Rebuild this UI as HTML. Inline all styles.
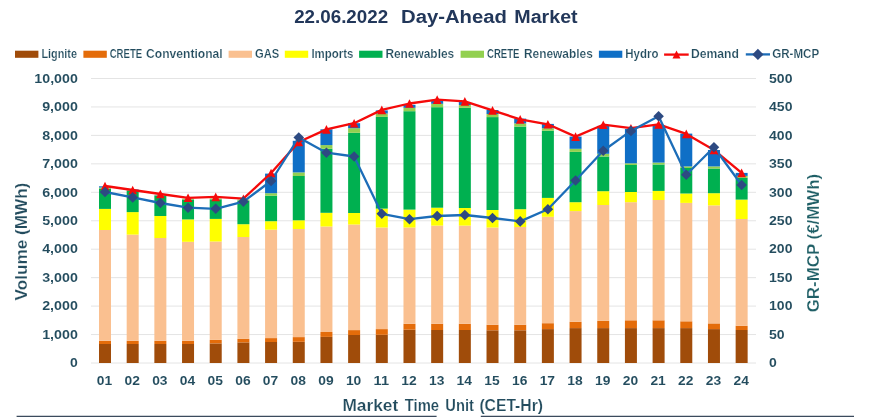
<!DOCTYPE html>
<html><head><meta charset="utf-8"><title>Day-Ahead Market</title>
<style>html,body{margin:0;padding:0;background:#fff}svg{display:block}text{font-family:"Liberation Sans",sans-serif;font-weight:bold}svg{will-change:transform}</style></head><body>
<svg width="869" height="418" viewBox="0 0 869 418">
<rect width="869" height="418" fill="#fff"/>
<line x1="91.0" x2="756.0" y1="78.50" y2="78.50" stroke="#E4E4E4" stroke-width="1"/>
<line x1="91.0" x2="756.0" y1="106.95" y2="106.95" stroke="#E4E4E4" stroke-width="1"/>
<line x1="91.0" x2="756.0" y1="135.40" y2="135.40" stroke="#E4E4E4" stroke-width="1"/>
<line x1="91.0" x2="756.0" y1="163.85" y2="163.85" stroke="#E4E4E4" stroke-width="1"/>
<line x1="91.0" x2="756.0" y1="192.30" y2="192.30" stroke="#E4E4E4" stroke-width="1"/>
<line x1="91.0" x2="756.0" y1="220.75" y2="220.75" stroke="#E4E4E4" stroke-width="1"/>
<line x1="91.0" x2="756.0" y1="249.20" y2="249.20" stroke="#E4E4E4" stroke-width="1"/>
<line x1="91.0" x2="756.0" y1="277.65" y2="277.65" stroke="#E4E4E4" stroke-width="1"/>
<line x1="91.0" x2="756.0" y1="306.10" y2="306.10" stroke="#E4E4E4" stroke-width="1"/>
<line x1="91.0" x2="756.0" y1="334.55" y2="334.55" stroke="#E4E4E4" stroke-width="1"/>
<line x1="91.0" x2="756.0" y1="363.00" y2="363.00" stroke="#E4E4E4" stroke-width="1"/>
<rect x="99.00" y="344.00" width="12.0" height="19.00" fill="#A04C0A"/>
<rect x="99.00" y="340.80" width="12.0" height="3.20" fill="#E46C0A"/>
<rect x="99.00" y="230.00" width="12.0" height="110.80" fill="#FAC090"/>
<rect x="99.00" y="208.90" width="12.0" height="21.10" fill="#FFFF00"/>
<rect x="99.00" y="188.50" width="12.0" height="20.40" fill="#00B050"/>
<rect x="99.00" y="187.50" width="12.0" height="1.00" fill="#92D050"/>
<rect x="99.00" y="186.30" width="12.0" height="1.20" fill="#0F6FC6"/>
<rect x="126.68" y="344.00" width="12.0" height="19.00" fill="#A04C0A"/>
<rect x="126.68" y="340.80" width="12.0" height="3.20" fill="#E46C0A"/>
<rect x="126.68" y="234.60" width="12.0" height="106.20" fill="#FAC090"/>
<rect x="126.68" y="212.10" width="12.0" height="22.50" fill="#FFFF00"/>
<rect x="126.68" y="191.00" width="12.0" height="21.10" fill="#00B050"/>
<rect x="126.68" y="190.20" width="12.0" height="0.80" fill="#92D050"/>
<rect x="126.68" y="189.50" width="12.0" height="0.70" fill="#0F6FC6"/>
<rect x="154.36" y="344.00" width="12.0" height="19.00" fill="#A04C0A"/>
<rect x="154.36" y="340.80" width="12.0" height="3.20" fill="#E46C0A"/>
<rect x="154.36" y="238.00" width="12.0" height="102.80" fill="#FAC090"/>
<rect x="154.36" y="216.00" width="12.0" height="22.00" fill="#FFFF00"/>
<rect x="154.36" y="196.00" width="12.0" height="20.00" fill="#00B050"/>
<rect x="154.36" y="195.30" width="12.0" height="0.70" fill="#92D050"/>
<rect x="154.36" y="194.90" width="12.0" height="0.40" fill="#0F6FC6"/>
<rect x="182.04" y="344.00" width="12.0" height="19.00" fill="#A04C0A"/>
<rect x="182.04" y="340.80" width="12.0" height="3.20" fill="#E46C0A"/>
<rect x="182.04" y="241.80" width="12.0" height="99.00" fill="#FAC090"/>
<rect x="182.04" y="219.40" width="12.0" height="22.40" fill="#FFFF00"/>
<rect x="182.04" y="199.50" width="12.0" height="19.90" fill="#00B050"/>
<rect x="182.04" y="198.70" width="12.0" height="0.80" fill="#92D050"/>
<rect x="209.72" y="343.40" width="12.0" height="19.60" fill="#A04C0A"/>
<rect x="209.72" y="339.90" width="12.0" height="3.50" fill="#E46C0A"/>
<rect x="209.72" y="241.50" width="12.0" height="98.40" fill="#FAC090"/>
<rect x="209.72" y="218.90" width="12.0" height="22.60" fill="#FFFF00"/>
<rect x="209.72" y="199.30" width="12.0" height="19.60" fill="#00B050"/>
<rect x="209.72" y="198.50" width="12.0" height="0.80" fill="#92D050"/>
<rect x="237.40" y="342.40" width="12.0" height="20.60" fill="#A04C0A"/>
<rect x="237.40" y="338.90" width="12.0" height="3.50" fill="#E46C0A"/>
<rect x="237.40" y="237.00" width="12.0" height="101.90" fill="#FAC090"/>
<rect x="237.40" y="224.20" width="12.0" height="12.80" fill="#FFFF00"/>
<rect x="237.40" y="200.50" width="12.0" height="23.70" fill="#00B050"/>
<rect x="237.40" y="199.50" width="12.0" height="1.00" fill="#92D050"/>
<rect x="265.08" y="342.00" width="12.0" height="21.00" fill="#A04C0A"/>
<rect x="265.08" y="338.10" width="12.0" height="3.90" fill="#E46C0A"/>
<rect x="265.08" y="229.70" width="12.0" height="108.40" fill="#FAC090"/>
<rect x="265.08" y="221.20" width="12.0" height="8.50" fill="#FFFF00"/>
<rect x="265.08" y="195.70" width="12.0" height="25.50" fill="#00B050"/>
<rect x="265.08" y="193.20" width="12.0" height="2.50" fill="#92D050"/>
<rect x="265.08" y="173.60" width="12.0" height="19.60" fill="#0F6FC6"/>
<rect x="292.76" y="341.80" width="12.0" height="21.20" fill="#A04C0A"/>
<rect x="292.76" y="337.10" width="12.0" height="4.70" fill="#E46C0A"/>
<rect x="292.76" y="229.00" width="12.0" height="108.10" fill="#FAC090"/>
<rect x="292.76" y="220.30" width="12.0" height="8.70" fill="#FFFF00"/>
<rect x="292.76" y="176.00" width="12.0" height="44.30" fill="#00B050"/>
<rect x="292.76" y="172.40" width="12.0" height="3.60" fill="#92D050"/>
<rect x="292.76" y="140.80" width="12.0" height="31.60" fill="#0F6FC6"/>
<rect x="320.44" y="336.90" width="12.0" height="26.10" fill="#A04C0A"/>
<rect x="320.44" y="332.00" width="12.0" height="4.90" fill="#E46C0A"/>
<rect x="320.44" y="226.50" width="12.0" height="105.50" fill="#FAC090"/>
<rect x="320.44" y="212.80" width="12.0" height="13.70" fill="#FFFF00"/>
<rect x="320.44" y="148.70" width="12.0" height="64.10" fill="#00B050"/>
<rect x="320.44" y="145.10" width="12.0" height="3.60" fill="#92D050"/>
<rect x="320.44" y="129.30" width="12.0" height="15.80" fill="#0F6FC6"/>
<rect x="348.12" y="335.00" width="12.0" height="28.00" fill="#A04C0A"/>
<rect x="348.12" y="330.10" width="12.0" height="4.90" fill="#E46C0A"/>
<rect x="348.12" y="224.50" width="12.0" height="105.60" fill="#FAC090"/>
<rect x="348.12" y="213.00" width="12.0" height="11.50" fill="#FFFF00"/>
<rect x="348.12" y="132.80" width="12.0" height="80.20" fill="#00B050"/>
<rect x="348.12" y="128.20" width="12.0" height="4.60" fill="#92D050"/>
<rect x="348.12" y="123.20" width="12.0" height="5.00" fill="#0F6FC6"/>
<rect x="375.80" y="334.80" width="12.0" height="28.20" fill="#A04C0A"/>
<rect x="375.80" y="329.10" width="12.0" height="5.70" fill="#E46C0A"/>
<rect x="375.80" y="227.50" width="12.0" height="101.60" fill="#FAC090"/>
<rect x="375.80" y="208.60" width="12.0" height="18.90" fill="#FFFF00"/>
<rect x="375.80" y="116.90" width="12.0" height="91.70" fill="#00B050"/>
<rect x="375.80" y="113.50" width="12.0" height="3.40" fill="#92D050"/>
<rect x="375.80" y="110.40" width="12.0" height="3.10" fill="#0F6FC6"/>
<rect x="403.48" y="329.70" width="12.0" height="33.30" fill="#A04C0A"/>
<rect x="403.48" y="323.80" width="12.0" height="5.90" fill="#E46C0A"/>
<rect x="403.48" y="227.50" width="12.0" height="96.30" fill="#FAC090"/>
<rect x="403.48" y="209.60" width="12.0" height="17.90" fill="#FFFF00"/>
<rect x="403.48" y="111.20" width="12.0" height="98.40" fill="#00B050"/>
<rect x="403.48" y="107.80" width="12.0" height="3.40" fill="#92D050"/>
<rect x="403.48" y="104.80" width="12.0" height="3.00" fill="#0F6FC6"/>
<rect x="431.16" y="330.00" width="12.0" height="33.00" fill="#A04C0A"/>
<rect x="431.16" y="323.80" width="12.0" height="6.20" fill="#E46C0A"/>
<rect x="431.16" y="225.60" width="12.0" height="98.20" fill="#FAC090"/>
<rect x="431.16" y="207.70" width="12.0" height="17.90" fill="#FFFF00"/>
<rect x="431.16" y="107.20" width="12.0" height="100.50" fill="#00B050"/>
<rect x="431.16" y="103.80" width="12.0" height="3.40" fill="#92D050"/>
<rect x="431.16" y="100.60" width="12.0" height="3.20" fill="#0F6FC6"/>
<rect x="458.84" y="330.00" width="12.0" height="33.00" fill="#A04C0A"/>
<rect x="458.84" y="323.80" width="12.0" height="6.20" fill="#E46C0A"/>
<rect x="458.84" y="225.60" width="12.0" height="98.20" fill="#FAC090"/>
<rect x="458.84" y="208.00" width="12.0" height="17.60" fill="#FFFF00"/>
<rect x="458.84" y="107.80" width="12.0" height="100.20" fill="#00B050"/>
<rect x="458.84" y="105.00" width="12.0" height="2.80" fill="#92D050"/>
<rect x="458.84" y="102.00" width="12.0" height="3.00" fill="#0F6FC6"/>
<rect x="486.52" y="330.30" width="12.0" height="32.70" fill="#A04C0A"/>
<rect x="486.52" y="324.80" width="12.0" height="5.50" fill="#E46C0A"/>
<rect x="486.52" y="227.50" width="12.0" height="97.30" fill="#FAC090"/>
<rect x="486.52" y="210.00" width="12.0" height="17.50" fill="#FFFF00"/>
<rect x="486.52" y="117.10" width="12.0" height="92.90" fill="#00B050"/>
<rect x="486.52" y="114.00" width="12.0" height="3.10" fill="#92D050"/>
<rect x="486.52" y="110.00" width="12.0" height="4.00" fill="#0F6FC6"/>
<rect x="514.20" y="330.30" width="12.0" height="32.70" fill="#A04C0A"/>
<rect x="514.20" y="324.80" width="12.0" height="5.50" fill="#E46C0A"/>
<rect x="514.20" y="227.00" width="12.0" height="97.80" fill="#FAC090"/>
<rect x="514.20" y="209.20" width="12.0" height="17.80" fill="#FFFF00"/>
<rect x="514.20" y="126.60" width="12.0" height="82.60" fill="#00B050"/>
<rect x="514.20" y="123.40" width="12.0" height="3.20" fill="#92D050"/>
<rect x="514.20" y="118.60" width="12.0" height="4.80" fill="#0F6FC6"/>
<rect x="541.88" y="329.10" width="12.0" height="33.90" fill="#A04C0A"/>
<rect x="541.88" y="323.20" width="12.0" height="5.90" fill="#E46C0A"/>
<rect x="541.88" y="216.80" width="12.0" height="106.40" fill="#FAC090"/>
<rect x="541.88" y="197.90" width="12.0" height="18.90" fill="#FFFF00"/>
<rect x="541.88" y="130.70" width="12.0" height="67.20" fill="#00B050"/>
<rect x="541.88" y="128.20" width="12.0" height="2.50" fill="#92D050"/>
<rect x="541.88" y="123.90" width="12.0" height="4.30" fill="#0F6FC6"/>
<rect x="569.56" y="328.10" width="12.0" height="34.90" fill="#A04C0A"/>
<rect x="569.56" y="321.80" width="12.0" height="6.30" fill="#E46C0A"/>
<rect x="569.56" y="211.10" width="12.0" height="110.70" fill="#FAC090"/>
<rect x="569.56" y="202.20" width="12.0" height="8.90" fill="#FFFF00"/>
<rect x="569.56" y="151.90" width="12.0" height="50.30" fill="#00B050"/>
<rect x="569.56" y="148.80" width="12.0" height="3.10" fill="#92D050"/>
<rect x="569.56" y="136.60" width="12.0" height="12.20" fill="#0F6FC6"/>
<rect x="597.24" y="328.10" width="12.0" height="34.90" fill="#A04C0A"/>
<rect x="597.24" y="320.90" width="12.0" height="7.20" fill="#E46C0A"/>
<rect x="597.24" y="205.00" width="12.0" height="115.90" fill="#FAC090"/>
<rect x="597.24" y="191.20" width="12.0" height="13.80" fill="#FFFF00"/>
<rect x="597.24" y="156.50" width="12.0" height="34.70" fill="#00B050"/>
<rect x="597.24" y="153.80" width="12.0" height="2.70" fill="#92D050"/>
<rect x="597.24" y="125.90" width="12.0" height="27.90" fill="#0F6FC6"/>
<rect x="624.92" y="328.10" width="12.0" height="34.90" fill="#A04C0A"/>
<rect x="624.92" y="320.30" width="12.0" height="7.80" fill="#E46C0A"/>
<rect x="624.92" y="202.20" width="12.0" height="118.10" fill="#FAC090"/>
<rect x="624.92" y="192.00" width="12.0" height="10.20" fill="#FFFF00"/>
<rect x="624.92" y="165.00" width="12.0" height="27.00" fill="#00B050"/>
<rect x="624.92" y="163.30" width="12.0" height="1.70" fill="#92D050"/>
<rect x="624.92" y="129.00" width="12.0" height="34.30" fill="#0F6FC6"/>
<rect x="652.60" y="328.10" width="12.0" height="34.90" fill="#A04C0A"/>
<rect x="652.60" y="320.30" width="12.0" height="7.80" fill="#E46C0A"/>
<rect x="652.60" y="200.00" width="12.0" height="120.30" fill="#FAC090"/>
<rect x="652.60" y="190.90" width="12.0" height="9.10" fill="#FFFF00"/>
<rect x="652.60" y="164.50" width="12.0" height="26.40" fill="#00B050"/>
<rect x="652.60" y="162.60" width="12.0" height="1.90" fill="#92D050"/>
<rect x="652.60" y="125.10" width="12.0" height="37.50" fill="#0F6FC6"/>
<rect x="680.28" y="328.10" width="12.0" height="34.90" fill="#A04C0A"/>
<rect x="680.28" y="321.30" width="12.0" height="6.80" fill="#E46C0A"/>
<rect x="680.28" y="202.90" width="12.0" height="118.40" fill="#FAC090"/>
<rect x="680.28" y="193.50" width="12.0" height="9.40" fill="#FFFF00"/>
<rect x="680.28" y="168.00" width="12.0" height="25.50" fill="#00B050"/>
<rect x="680.28" y="166.40" width="12.0" height="1.60" fill="#92D050"/>
<rect x="680.28" y="133.60" width="12.0" height="32.80" fill="#0F6FC6"/>
<rect x="707.96" y="329.10" width="12.0" height="33.90" fill="#A04C0A"/>
<rect x="707.96" y="323.40" width="12.0" height="5.70" fill="#E46C0A"/>
<rect x="707.96" y="205.40" width="12.0" height="118.00" fill="#FAC090"/>
<rect x="707.96" y="193.20" width="12.0" height="12.20" fill="#FFFF00"/>
<rect x="707.96" y="168.50" width="12.0" height="24.70" fill="#00B050"/>
<rect x="707.96" y="166.40" width="12.0" height="2.10" fill="#92D050"/>
<rect x="707.96" y="150.00" width="12.0" height="16.40" fill="#0F6FC6"/>
<rect x="735.64" y="330.00" width="12.0" height="33.00" fill="#A04C0A"/>
<rect x="735.64" y="325.80" width="12.0" height="4.20" fill="#E46C0A"/>
<rect x="735.64" y="219.00" width="12.0" height="106.80" fill="#FAC090"/>
<rect x="735.64" y="199.60" width="12.0" height="19.40" fill="#FFFF00"/>
<rect x="735.64" y="177.80" width="12.0" height="21.80" fill="#00B050"/>
<rect x="735.64" y="175.90" width="12.0" height="1.90" fill="#92D050"/>
<rect x="735.64" y="172.90" width="12.0" height="3.00" fill="#0F6FC6"/>
<polyline points="105.00,186.00 132.68,190.00 160.36,194.00 188.04,197.80 215.72,196.90 243.40,198.70 271.08,173.00 298.76,142.00 326.44,129.40 354.12,123.20 381.80,109.90 409.48,103.50 437.16,99.60 464.84,101.40 492.52,110.40 520.20,119.40 547.88,124.30 575.56,136.60 603.24,124.70 630.92,128.20 658.60,124.40 686.28,133.90 713.96,150.00 741.64,172.90" fill="none" stroke="#F50A0A" stroke-width="2.3" stroke-linejoin="round" stroke-linecap="round"/>
<polyline points="105.00,192.00 132.68,197.40 160.36,203.00 188.04,207.70 215.72,208.80 243.40,201.60 271.08,181.00 298.76,137.50 326.44,152.70 354.12,156.50 381.80,213.80 409.48,219.20 437.16,216.00 464.84,215.00 492.52,218.00 520.20,221.40 547.88,209.20 575.56,180.50 603.24,150.70 630.92,130.90 658.60,116.30 686.28,174.80 713.96,147.30 741.64,185.00" fill="none" stroke="#1C6DB8" stroke-width="2.3" stroke-linejoin="round" stroke-linecap="round"/>
<path d="M105.00,181.70 L109.30,190.30 L100.70,190.30 Z" fill="#F50A0A"/>
<path d="M132.68,185.70 L136.98,194.30 L128.38,194.30 Z" fill="#F50A0A"/>
<path d="M160.36,189.70 L164.66,198.30 L156.06,198.30 Z" fill="#F50A0A"/>
<path d="M188.04,193.50 L192.34,202.10 L183.74,202.10 Z" fill="#F50A0A"/>
<path d="M215.72,192.60 L220.02,201.20 L211.42,201.20 Z" fill="#F50A0A"/>
<path d="M243.40,194.40 L247.70,203.00 L239.10,203.00 Z" fill="#F50A0A"/>
<path d="M271.08,168.70 L275.38,177.30 L266.78,177.30 Z" fill="#F50A0A"/>
<path d="M298.76,137.70 L303.06,146.30 L294.46,146.30 Z" fill="#F50A0A"/>
<path d="M326.44,125.10 L330.74,133.70 L322.14,133.70 Z" fill="#F50A0A"/>
<path d="M354.12,118.90 L358.42,127.50 L349.82,127.50 Z" fill="#F50A0A"/>
<path d="M381.80,105.60 L386.10,114.20 L377.50,114.20 Z" fill="#F50A0A"/>
<path d="M409.48,99.20 L413.78,107.80 L405.18,107.80 Z" fill="#F50A0A"/>
<path d="M437.16,95.30 L441.46,103.90 L432.86,103.90 Z" fill="#F50A0A"/>
<path d="M464.84,97.10 L469.14,105.70 L460.54,105.70 Z" fill="#F50A0A"/>
<path d="M492.52,106.10 L496.82,114.70 L488.22,114.70 Z" fill="#F50A0A"/>
<path d="M520.20,115.10 L524.50,123.70 L515.90,123.70 Z" fill="#F50A0A"/>
<path d="M547.88,120.00 L552.18,128.60 L543.58,128.60 Z" fill="#F50A0A"/>
<path d="M575.56,132.30 L579.86,140.90 L571.26,140.90 Z" fill="#F50A0A"/>
<path d="M603.24,120.40 L607.54,129.00 L598.94,129.00 Z" fill="#F50A0A"/>
<path d="M630.92,123.90 L635.22,132.50 L626.62,132.50 Z" fill="#F50A0A"/>
<path d="M658.60,120.10 L662.90,128.70 L654.30,128.70 Z" fill="#F50A0A"/>
<path d="M686.28,129.60 L690.58,138.20 L681.98,138.20 Z" fill="#F50A0A"/>
<path d="M713.96,145.70 L718.26,154.30 L709.66,154.30 Z" fill="#F50A0A"/>
<path d="M741.64,168.60 L745.94,177.20 L737.34,177.20 Z" fill="#F50A0A"/>
<path d="M105.00,186.70 L110.30,192.00 L105.00,197.30 L99.70,192.00 Z" fill="#2D4A82"/>
<path d="M132.68,192.10 L137.98,197.40 L132.68,202.70 L127.38,197.40 Z" fill="#2D4A82"/>
<path d="M160.36,197.70 L165.66,203.00 L160.36,208.30 L155.06,203.00 Z" fill="#2D4A82"/>
<path d="M188.04,202.40 L193.34,207.70 L188.04,213.00 L182.74,207.70 Z" fill="#2D4A82"/>
<path d="M215.72,203.50 L221.02,208.80 L215.72,214.10 L210.42,208.80 Z" fill="#2D4A82"/>
<path d="M243.40,196.30 L248.70,201.60 L243.40,206.90 L238.10,201.60 Z" fill="#2D4A82"/>
<path d="M271.08,175.70 L276.38,181.00 L271.08,186.30 L265.78,181.00 Z" fill="#2D4A82"/>
<path d="M298.76,132.20 L304.06,137.50 L298.76,142.80 L293.46,137.50 Z" fill="#2D4A82"/>
<path d="M326.44,147.40 L331.74,152.70 L326.44,158.00 L321.14,152.70 Z" fill="#2D4A82"/>
<path d="M354.12,151.20 L359.42,156.50 L354.12,161.80 L348.82,156.50 Z" fill="#2D4A82"/>
<path d="M381.80,208.50 L387.10,213.80 L381.80,219.10 L376.50,213.80 Z" fill="#2D4A82"/>
<path d="M409.48,213.90 L414.78,219.20 L409.48,224.50 L404.18,219.20 Z" fill="#2D4A82"/>
<path d="M437.16,210.70 L442.46,216.00 L437.16,221.30 L431.86,216.00 Z" fill="#2D4A82"/>
<path d="M464.84,209.70 L470.14,215.00 L464.84,220.30 L459.54,215.00 Z" fill="#2D4A82"/>
<path d="M492.52,212.70 L497.82,218.00 L492.52,223.30 L487.22,218.00 Z" fill="#2D4A82"/>
<path d="M520.20,216.10 L525.50,221.40 L520.20,226.70 L514.90,221.40 Z" fill="#2D4A82"/>
<path d="M547.88,203.90 L553.18,209.20 L547.88,214.50 L542.58,209.20 Z" fill="#2D4A82"/>
<path d="M575.56,175.20 L580.86,180.50 L575.56,185.80 L570.26,180.50 Z" fill="#2D4A82"/>
<path d="M603.24,145.40 L608.54,150.70 L603.24,156.00 L597.94,150.70 Z" fill="#2D4A82"/>
<path d="M630.92,125.60 L636.22,130.90 L630.92,136.20 L625.62,130.90 Z" fill="#2D4A82"/>
<path d="M658.60,111.00 L663.90,116.30 L658.60,121.60 L653.30,116.30 Z" fill="#2D4A82"/>
<path d="M686.28,169.50 L691.58,174.80 L686.28,180.10 L680.98,174.80 Z" fill="#2D4A82"/>
<path d="M713.96,142.00 L719.26,147.30 L713.96,152.60 L708.66,147.30 Z" fill="#2D4A82"/>
<path d="M741.64,179.70 L746.94,185.00 L741.64,190.30 L736.34,185.00 Z" fill="#2D4A82"/>
<text stroke="#fff" x="34.35" y="82.70" font-size="13.4" stroke-width="0.05" fill="#234C5E" textLength="43.5" lengthAdjust="spacingAndGlyphs">10,000</text>
<text stroke="#fff" x="769.0" y="82.70" font-size="13.4" stroke-width="0.05" fill="#234C5E" textLength="23.5" lengthAdjust="spacingAndGlyphs">500</text>
<text stroke="#fff" x="42.20" y="111.15" font-size="13.4" stroke-width="0.05" fill="#234C5E" textLength="35.7" lengthAdjust="spacingAndGlyphs">9,000</text>
<text stroke="#fff" x="769.0" y="111.15" font-size="13.4" stroke-width="0.05" fill="#234C5E" textLength="23.5" lengthAdjust="spacingAndGlyphs">450</text>
<text stroke="#fff" x="42.20" y="139.60" font-size="13.4" stroke-width="0.05" fill="#234C5E" textLength="35.7" lengthAdjust="spacingAndGlyphs">8,000</text>
<text stroke="#fff" x="769.0" y="139.60" font-size="13.4" stroke-width="0.05" fill="#234C5E" textLength="23.5" lengthAdjust="spacingAndGlyphs">400</text>
<text stroke="#fff" x="42.20" y="168.05" font-size="13.4" stroke-width="0.05" fill="#234C5E" textLength="35.7" lengthAdjust="spacingAndGlyphs">7,000</text>
<text stroke="#fff" x="769.0" y="168.05" font-size="13.4" stroke-width="0.05" fill="#234C5E" textLength="23.5" lengthAdjust="spacingAndGlyphs">350</text>
<text stroke="#fff" x="42.20" y="196.50" font-size="13.4" stroke-width="0.05" fill="#234C5E" textLength="35.7" lengthAdjust="spacingAndGlyphs">6,000</text>
<text stroke="#fff" x="769.0" y="196.50" font-size="13.4" stroke-width="0.05" fill="#234C5E" textLength="23.5" lengthAdjust="spacingAndGlyphs">300</text>
<text stroke="#fff" x="42.20" y="224.95" font-size="13.4" stroke-width="0.05" fill="#234C5E" textLength="35.7" lengthAdjust="spacingAndGlyphs">5,000</text>
<text stroke="#fff" x="769.0" y="224.95" font-size="13.4" stroke-width="0.05" fill="#234C5E" textLength="23.5" lengthAdjust="spacingAndGlyphs">250</text>
<text stroke="#fff" x="42.20" y="253.40" font-size="13.4" stroke-width="0.05" fill="#234C5E" textLength="35.7" lengthAdjust="spacingAndGlyphs">4,000</text>
<text stroke="#fff" x="769.0" y="253.40" font-size="13.4" stroke-width="0.05" fill="#234C5E" textLength="23.5" lengthAdjust="spacingAndGlyphs">200</text>
<text stroke="#fff" x="42.20" y="281.85" font-size="13.4" stroke-width="0.05" fill="#234C5E" textLength="35.7" lengthAdjust="spacingAndGlyphs">3,000</text>
<text stroke="#fff" x="769.0" y="281.85" font-size="13.4" stroke-width="0.05" fill="#234C5E" textLength="23.5" lengthAdjust="spacingAndGlyphs">150</text>
<text stroke="#fff" x="42.20" y="310.30" font-size="13.4" stroke-width="0.05" fill="#234C5E" textLength="35.7" lengthAdjust="spacingAndGlyphs">2,000</text>
<text stroke="#fff" x="769.0" y="310.30" font-size="13.4" stroke-width="0.05" fill="#234C5E" textLength="23.5" lengthAdjust="spacingAndGlyphs">100</text>
<text stroke="#fff" x="42.20" y="338.75" font-size="13.4" stroke-width="0.05" fill="#234C5E" textLength="35.7" lengthAdjust="spacingAndGlyphs">1,000</text>
<text stroke="#fff" x="769.0" y="338.75" font-size="13.4" stroke-width="0.05" fill="#234C5E" textLength="15.7" lengthAdjust="spacingAndGlyphs">50</text>
<text stroke="#fff" x="70.05" y="367.20" font-size="13.4" stroke-width="0.05" fill="#234C5E" textLength="7.8" lengthAdjust="spacingAndGlyphs">0</text>
<text stroke="#fff" x="769.0" y="367.20" font-size="13.4" stroke-width="0.05" fill="#234C5E" textLength="7.8" lengthAdjust="spacingAndGlyphs">0</text>
<text stroke="#fff" x="96.80" y="385.4" font-size="13.4" stroke-width="0.05" fill="#234C5E" textLength="15.4" lengthAdjust="spacingAndGlyphs">01</text>
<text stroke="#fff" x="124.48" y="385.4" font-size="13.4" stroke-width="0.05" fill="#234C5E" textLength="15.4" lengthAdjust="spacingAndGlyphs">02</text>
<text stroke="#fff" x="152.16" y="385.4" font-size="13.4" stroke-width="0.05" fill="#234C5E" textLength="15.4" lengthAdjust="spacingAndGlyphs">03</text>
<text stroke="#fff" x="179.84" y="385.4" font-size="13.4" stroke-width="0.05" fill="#234C5E" textLength="15.4" lengthAdjust="spacingAndGlyphs">04</text>
<text stroke="#fff" x="207.52" y="385.4" font-size="13.4" stroke-width="0.05" fill="#234C5E" textLength="15.4" lengthAdjust="spacingAndGlyphs">05</text>
<text stroke="#fff" x="235.20" y="385.4" font-size="13.4" stroke-width="0.05" fill="#234C5E" textLength="15.4" lengthAdjust="spacingAndGlyphs">06</text>
<text stroke="#fff" x="262.88" y="385.4" font-size="13.4" stroke-width="0.05" fill="#234C5E" textLength="15.4" lengthAdjust="spacingAndGlyphs">07</text>
<text stroke="#fff" x="290.56" y="385.4" font-size="13.4" stroke-width="0.05" fill="#234C5E" textLength="15.4" lengthAdjust="spacingAndGlyphs">08</text>
<text stroke="#fff" x="318.24" y="385.4" font-size="13.4" stroke-width="0.05" fill="#234C5E" textLength="15.4" lengthAdjust="spacingAndGlyphs">09</text>
<text stroke="#fff" x="345.92" y="385.4" font-size="13.4" stroke-width="0.05" fill="#234C5E" textLength="15.4" lengthAdjust="spacingAndGlyphs">10</text>
<text stroke="#fff" x="373.60" y="385.4" font-size="13.4" stroke-width="0.05" fill="#234C5E" textLength="15.4" lengthAdjust="spacingAndGlyphs">11</text>
<text stroke="#fff" x="401.28" y="385.4" font-size="13.4" stroke-width="0.05" fill="#234C5E" textLength="15.4" lengthAdjust="spacingAndGlyphs">12</text>
<text stroke="#fff" x="428.96" y="385.4" font-size="13.4" stroke-width="0.05" fill="#234C5E" textLength="15.4" lengthAdjust="spacingAndGlyphs">13</text>
<text stroke="#fff" x="456.64" y="385.4" font-size="13.4" stroke-width="0.05" fill="#234C5E" textLength="15.4" lengthAdjust="spacingAndGlyphs">14</text>
<text stroke="#fff" x="484.32" y="385.4" font-size="13.4" stroke-width="0.05" fill="#234C5E" textLength="15.4" lengthAdjust="spacingAndGlyphs">15</text>
<text stroke="#fff" x="512.00" y="385.4" font-size="13.4" stroke-width="0.05" fill="#234C5E" textLength="15.4" lengthAdjust="spacingAndGlyphs">16</text>
<text stroke="#fff" x="539.68" y="385.4" font-size="13.4" stroke-width="0.05" fill="#234C5E" textLength="15.4" lengthAdjust="spacingAndGlyphs">17</text>
<text stroke="#fff" x="567.36" y="385.4" font-size="13.4" stroke-width="0.05" fill="#234C5E" textLength="15.4" lengthAdjust="spacingAndGlyphs">18</text>
<text stroke="#fff" x="595.04" y="385.4" font-size="13.4" stroke-width="0.05" fill="#234C5E" textLength="15.4" lengthAdjust="spacingAndGlyphs">19</text>
<text stroke="#fff" x="622.72" y="385.4" font-size="13.4" stroke-width="0.05" fill="#234C5E" textLength="15.4" lengthAdjust="spacingAndGlyphs">20</text>
<text stroke="#fff" x="650.40" y="385.4" font-size="13.4" stroke-width="0.05" fill="#234C5E" textLength="15.4" lengthAdjust="spacingAndGlyphs">21</text>
<text stroke="#fff" x="678.08" y="385.4" font-size="13.4" stroke-width="0.05" fill="#234C5E" textLength="15.4" lengthAdjust="spacingAndGlyphs">22</text>
<text stroke="#fff" x="705.76" y="385.4" font-size="13.4" stroke-width="0.05" fill="#234C5E" textLength="15.4" lengthAdjust="spacingAndGlyphs">23</text>
<text stroke="#fff" x="733.44" y="385.4" font-size="13.4" stroke-width="0.05" fill="#234C5E" textLength="15.4" lengthAdjust="spacingAndGlyphs">24</text>
<text x="294.2" y="22.9" font-size="19.2" stroke="none" fill="#22375A" textLength="93.9" lengthAdjust="spacingAndGlyphs">22.06.2022</text>
<text x="401.0" y="22.9" font-size="19.2" stroke="none" fill="#22375A" textLength="105.9" lengthAdjust="spacingAndGlyphs">Day-Ahead</text>
<text x="514.3" y="22.9" font-size="19.2" stroke="none" fill="#22375A" textLength="63.3" lengthAdjust="spacingAndGlyphs">Market</text>
<text stroke-width="0.2" stroke="#fff" x="342.4" y="411.2" font-size="16" fill="#234C5E" textLength="55.8" lengthAdjust="spacingAndGlyphs">Market</text>
<text stroke-width="0.2" stroke="#fff" x="404.8" y="411.2" font-size="16" fill="#234C5E" textLength="34.3" lengthAdjust="spacingAndGlyphs">Time</text>
<text stroke-width="0.2" stroke="#fff" x="445.3" y="411.2" font-size="16" fill="#234C5E" textLength="28.6" lengthAdjust="spacingAndGlyphs">Unit</text>
<text stroke-width="0.2" stroke="#fff" x="479.4" y="411.2" font-size="16" fill="#234C5E" textLength="63.6" lengthAdjust="spacingAndGlyphs">(CET-Hr)</text>
<text stroke-width="0.2" stroke="#fff" transform="translate(26.8,300.4) rotate(-90)" font-size="16" fill="#234C5E" textLength="117.7" lengthAdjust="spacingAndGlyphs">Volume (MWh)</text>
<text stroke-width="0.2" stroke="#fff" transform="translate(818.5,312.3) rotate(-90)" font-size="16" fill="#1F5F66" textLength="138.5" lengthAdjust="spacingAndGlyphs">GR-MCP (€/MWh)</text>
<rect x="15" y="50.7" width="23.4" height="7.1" fill="#A04C0A"/>
<text stroke-width="0.2" stroke="#fff" x="41.5" y="58.2" font-size="13" fill="#234C5E" textLength="35.4" lengthAdjust="spacingAndGlyphs">Lignite</text>
<rect x="83.4" y="50.7" width="23.4" height="7.1" fill="#E46C0A"/>
<text x="109.7" y="58.2" font-size="13" stroke="#fff" stroke-width="0.18" fill="#234C5E" textLength="32.5" lengthAdjust="spacingAndGlyphs">CRETE</text>
<text stroke-width="0.2" stroke="#fff" x="146.1" y="58.2" font-size="13" fill="#234C5E" textLength="76.6" lengthAdjust="spacingAndGlyphs">Conventional</text>
<rect x="228.6" y="50.7" width="23.4" height="7.1" fill="#FAC090"/>
<text stroke-width="0.2" stroke="#fff" x="255" y="58.2" font-size="13" fill="#234C5E" textLength="24.2" lengthAdjust="spacingAndGlyphs">GAS</text>
<rect x="284.8" y="50.7" width="23.4" height="7.1" fill="#FFFF00"/>
<text stroke-width="0.2" stroke="#fff" x="311.4" y="58.2" font-size="13" fill="#234C5E" textLength="42.0" lengthAdjust="spacingAndGlyphs">Imports</text>
<rect x="359.1" y="50.7" width="23.4" height="7.1" fill="#00B050"/>
<text stroke-width="0.2" stroke="#fff" x="385.4" y="58.2" font-size="13" fill="#234C5E" textLength="68.8" lengthAdjust="spacingAndGlyphs">Renewables</text>
<rect x="460.6" y="50.7" width="23.4" height="7.1" fill="#92D050"/>
<text x="487" y="58.2" font-size="13" stroke="#fff" stroke-width="0.18" fill="#234C5E" textLength="32.5" lengthAdjust="spacingAndGlyphs">CRETE</text>
<text stroke-width="0.2" stroke="#fff" x="524.0" y="58.2" font-size="13" fill="#234C5E" textLength="68.8" lengthAdjust="spacingAndGlyphs">Renewables</text>
<rect x="598.9" y="50.7" width="23.4" height="7.1" fill="#0F6FC6"/>
<text stroke-width="0.2" stroke="#fff" x="625.3" y="58.2" font-size="13" fill="#234C5E" textLength="33.1" lengthAdjust="spacingAndGlyphs">Hydro</text>
<line x1="664.1" x2="688.7" y1="54.6" y2="54.6" stroke="#F50A0A" stroke-width="2.3"/>
<path d="M676.50,50.60 L680.50,58.60 L672.50,58.60 Z" fill="#F50A0A"/>
<text stroke-width="0.2" stroke="#fff" x="690.9" y="58.2" font-size="13" fill="#234C5E" textLength="48" lengthAdjust="spacingAndGlyphs">Demand</text>
<line x1="745.8" x2="770" y1="54.4" y2="54.4" stroke="#1C6DB8" stroke-width="2.3"/>
<path d="M757.90,48.80 L763.50,54.40 L757.90,60.00 L752.30,54.40 Z" fill="#2D4A82"/>
<text stroke-width="0.2" stroke="#fff" x="772.2" y="58.2" font-size="13" fill="#234C5E" textLength="47" lengthAdjust="spacingAndGlyphs">GR-MCP</text>
<line x1="16.6" x2="436.6" y1="416.3" y2="416.3" stroke="#3B4A5C" stroke-width="1.2"/>
<line x1="480.8" x2="854" y1="416.3" y2="416.3" stroke="#3B4A5C" stroke-width="1.2"/>
</svg></body></html>
